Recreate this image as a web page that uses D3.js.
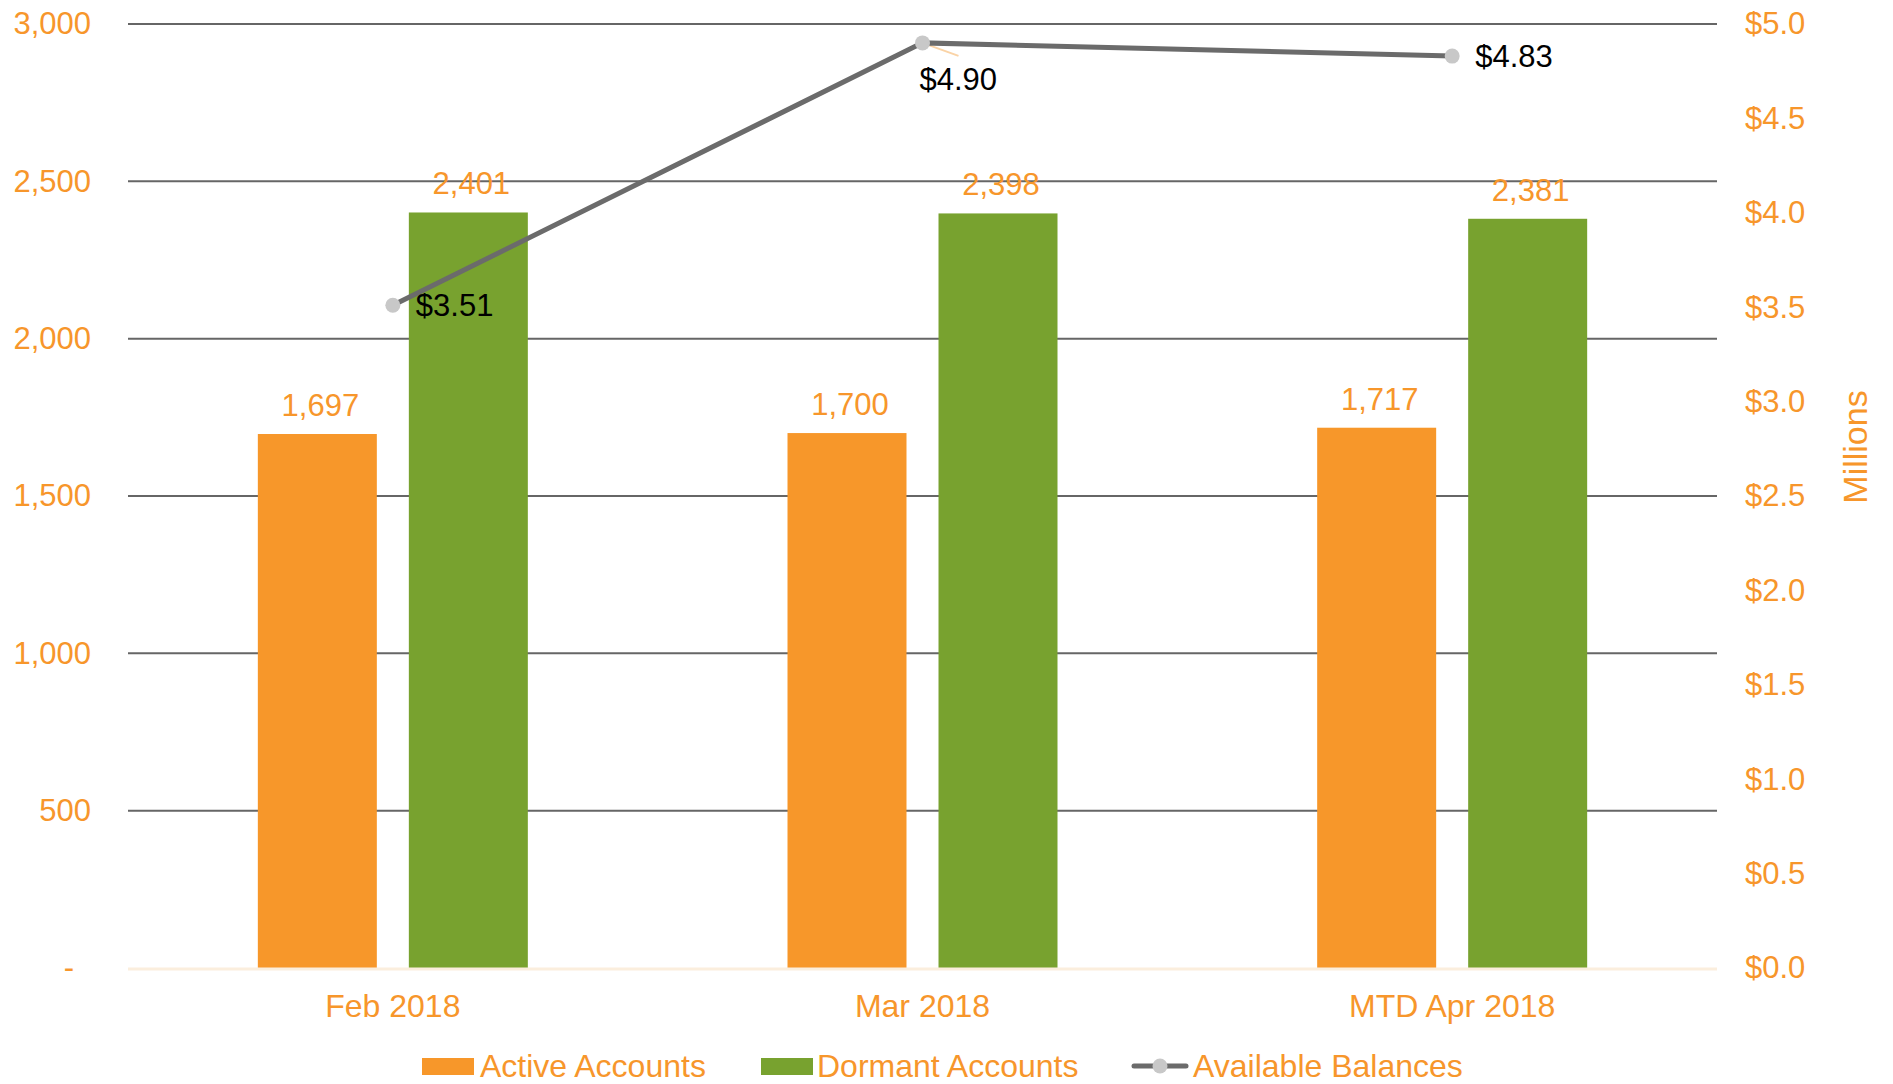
<!DOCTYPE html>
<html>
<head>
<meta charset="utf-8">
<script src="https://cdn.jsdelivr.net/npm/d3@7"></script>
<style>
    html, body { margin: 0; padding: 0; background: #fff; }
    svg { display: block; font-family: "Liberation Sans", Arial, sans-serif; }
</style>
</head>
<body>
<main></main>
<script>
const categories = ['Feb 2018', 'Mar 2018', 'MTD Apr 2018'];
const activeAccounts = [1697, 1700, 1717];
const dormantAccounts = [2401, 2398, 2381];
const availableBalances = [3.51, 4.90, 4.83];
const leftTicks = [0, 500, 1000, 1500, 2000, 2500, 3000];
const rightTicks = [0, 0.5, 1, 1.5, 2, 2.5, 3, 3.5, 4, 4.5, 5];

const orange = '#F7972A';
const green = '#78A22F';
const textOrange = '#F7962B';
const fontSize = 31;
const bigFont = 32;

const width = 1893;
const height = 1084;
const plotLeft = 128;
const plotRight = 1717;
const plotTop = 24;
const plotBottom = 968;

const svg = d3.select('main')
    .append('svg')
    .attr('width', width)
    .attr('height', height);

const x0 = d3.scaleBand().domain(categories).range([plotLeft, plotRight]);
const x1 = d3.scaleBand().domain(['active', 'dormant']).range([-135, 135]).paddingInner(0.212);
const y = d3.scaleLinear().domain([0, 3000]).range([plotBottom, plotTop]);
const y2 = d3.scaleLinear().domain([0, 5]).range([plotBottom, plotTop]);

const center = c => x0(c) + x0.bandwidth() / 2;

// grid lines
svg.append('g')
    .selectAll('line')
    .data(leftTicks.filter(d => d > 0))
    .enter()
    .append('line')
    .attr('x1', plotLeft)
    .attr('x2', plotRight)
    .attr('y1', d => y(d))
    .attr('y2', d => y(d))
    .attr('stroke', '#666')
    .attr('stroke-width', 2);

// left axis
const leftAxis = svg.append('g')
    .attr('transform', `translate(${plotLeft - 37},0)`)
    .call(d3.axisLeft(y).tickValues(leftTicks).tickSize(0).tickPadding(0)
        .tickFormat(d => d === 0 ? '-' : d3.format(',')(d)));
leftAxis.select('.domain').remove();
leftAxis.selectAll('text')
    .attr('fill', textOrange)
    .attr('font-size', fontSize)
    .attr('font-family', '"Liberation Sans", Arial, sans-serif')
    .attr('dx', d => d === 0 ? -17 : 0);

// right axis
const rightAxis = svg.append('g')
    .attr('transform', `translate(${plotRight + 28},0)`)
    .call(d3.axisRight(y2).tickValues(rightTicks).tickSize(0).tickPadding(0)
        .tickFormat(d => '$' + d3.format('.1f')(d)));
rightAxis.select('.domain').remove();
rightAxis.selectAll('text')
    .attr('fill', textOrange)
    .attr('font-size', fontSize)
    .attr('font-family', '"Liberation Sans", Arial, sans-serif');

svg.append('text')
    .attr('transform', 'translate(1867,447) rotate(-90)')
    .attr('text-anchor', 'middle')
    .attr('fill', textOrange)
    .attr('font-size', 34)
    .text('Millions');

// bars
const barGroups = svg.append('g')
    .selectAll('g')
    .data(categories)
    .enter()
    .append('g')
    .attr('transform', d => `translate(${center(d)},0)`);

const barData = (c, i) => [
    { key: 'active', value: activeAccounts[i], color: orange },
    { key: 'dormant', value: dormantAccounts[i], color: green },
];

barGroups.selectAll('rect')
    .data(barData)
    .enter()
    .append('rect')
    .attr('x', d => x1(d.key))
    .attr('width', x1.bandwidth())
    .attr('y', d => y(d.value))
    .attr('height', d => y(0) - y(d.value))
    .attr('fill', d => d.color);

barGroups.selectAll('text')
    .data(barData)
    .enter()
    .append('text')
    .attr('x', d => x1(d.key) + x1.bandwidth() / 2 + 3)
    .attr('y', d => y(d.value) - 18)
    .attr('text-anchor', 'middle')
    .attr('fill', textOrange)
    .attr('font-size', fontSize)
    .text(d => d3.format(',')(d.value));

// x axis baseline
svg.append('line')
    .attr('x1', plotLeft)
    .attr('x2', plotRight)
    .attr('y1', y(0) + 1)
    .attr('y2', y(0) + 1)
    .attr('stroke', '#FBEEDD')
    .attr('stroke-width', 3);

// category labels
svg.append('g')
    .selectAll('text')
    .data(categories)
    .enter()
    .append('text')
    .attr('x', d => center(d))
    .attr('y', 1017)
    .attr('text-anchor', 'middle')
    .attr('fill', textOrange)
    .attr('font-size', bigFont)
    .text(d => d);

// balances line
const points = categories.map((c, i) => ({ c, value: availableBalances[i] }));
const line = d3.line().x(d => center(d.c)).y(d => y2(d.value));

// leader line for the middle label
svg.append('line')
    .attr('x1', center(categories[1]))
    .attr('y1', y2(availableBalances[1]))
    .attr('x2', center(categories[1]) + 36)
    .attr('y2', y2(availableBalances[1]) + 13)
    .attr('stroke', '#FAD3A6')
    .attr('stroke-width', 2);

svg.append('path')
    .attr('d', line(points))
    .attr('fill', 'none')
    .attr('stroke', '#6B6B6B')
    .attr('stroke-width', 5);

svg.append('g')
    .selectAll('circle')
    .data(points)
    .enter()
    .append('circle')
    .attr('cx', d => center(d.c))
    .attr('cy', d => y2(d.value))
    .attr('r', 7.5)
    .attr('fill', '#C8C8C8');

svg.append('g')
    .selectAll('text')
    .data(points)
    .enter()
    .append('text')
    .attr('x', (d, i) => center(d.c) + (i === 1 ? -3 : 23))
    .attr('y', (d, i) => y2(d.value) + (i === 1 ? 36 : 0))
    .attr('dy', '0.35em')
    .attr('fill', '#000')
    .attr('font-size', fontSize)
    .text(d => '$' + d3.format('.2f')(d.value));

// legend
const legendY = 1066;
const legend = svg.append('g');

legend.append('rect')
    .attr('x', 422).attr('y', legendY - 8).attr('width', 52).attr('height', 17)
    .attr('fill', orange);
legend.append('text')
    .attr('x', 480).attr('y', legendY).attr('dy', '0.35em')
    .attr('fill', textOrange).attr('font-size', bigFont)
    .text('Active Accounts');

legend.append('rect')
    .attr('x', 761).attr('y', legendY - 8).attr('width', 52).attr('height', 17)
    .attr('fill', green);
legend.append('text')
    .attr('x', 817).attr('y', legendY).attr('dy', '0.35em')
    .attr('fill', textOrange).attr('font-size', bigFont)
    .text('Dormant Accounts');

legend.append('line')
    .attr('x1', 1134).attr('x2', 1186).attr('y1', legendY).attr('y2', legendY)
    .attr('stroke', '#6B6B6B').attr('stroke-width', 5).attr('stroke-linecap', 'round');
legend.append('circle')
    .attr('cx', 1160).attr('cy', legendY).attr('r', 7.5)
    .attr('fill', '#C8C8C8');
legend.append('text')
    .attr('x', 1193).attr('y', legendY).attr('dy', '0.35em')
    .attr('fill', textOrange).attr('font-size', bigFont)
    .text('Available Balances');
</script>
</body>
</html>
